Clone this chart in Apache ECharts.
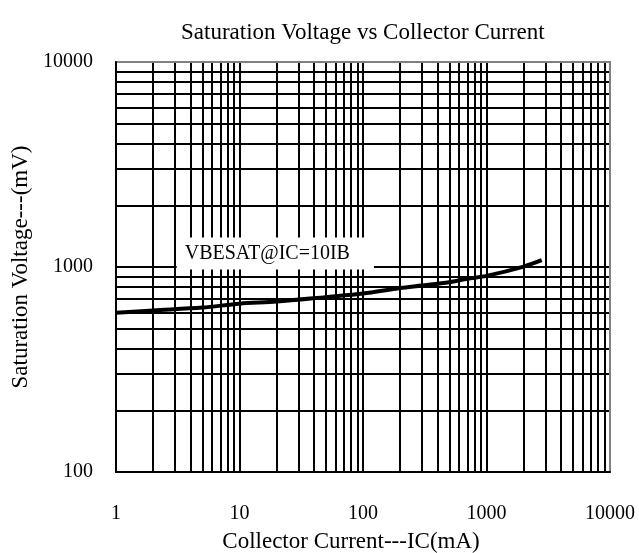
<!DOCTYPE html>
<html>
<head>
<meta charset="utf-8">
<script src="https://cdn.jsdelivr.net/npm/echarts@6/dist/echarts.min.js"></script>
<style>html,body{margin:0;padding:0;background:#fff;}#c{width:639px;height:553px;}</style>
</head>
<body>
<div id="c"></div>
<script>
// Data
var currentMA = [1, 2, 5, 10, 20, 50, 100, 200, 300, 500, 700, 1000, 2000, 2800];
var vbesatMV  = [598, 614, 634, 662, 678, 713, 742, 790, 812, 843, 876, 905, 1005, 1080];
var xTickLabels = ['1', '10', '100', '1000', '10000'];
var yTickLabels = ['100', '1000', '10000'];
var xGridValues = [2,3,4,5,6,7,8,9,10,20,30,40,50,60,70,80,90,100,200,300,400,500,600,700,800,900,1000,2000,3000,4000,5000,6000,7000,8000,9000];
var yGridValues = [200,300,400,500,600,700,800,900,1000,2000,3000,4000,5000,6000,7000,8000,9000];

var FONT = '"Liberation Serif", "DejaVu Serif", serif';
var chart = echarts.init(document.getElementById('c'), null, {renderer: 'canvas'});

function fmt(labels) {
  return function (v) {
    var s = String(Math.round(v));
    return labels.indexOf(s) >= 0 ? s : '';
  };
}

var option = {
  animation: false,
  backgroundColor: '#fff',
  title: {
    text: 'Saturation Voltage vs Collector Current',
    left: 176, top: 16,
    textStyle: {fontFamily: FONT, fontSize: 23, fontWeight: 'normal', color: '#000'}
  },
  grid: {
    left: 116, top: 62, right: 29, bottom: 81,
    outerBoundsMode: 'none', containLabel: false,
    show: true, z: 10, borderColor: '#808080', borderWidth: 2,
    backgroundColor: 'transparent'
  },
  xAxis: {
    type: 'log', logBase: 10, min: 1, max: 10000, splitNumber: 4,
    z: 11,
    axisLine: {show: true, lineStyle: {color: '#000', width: 2}},
    axisTick: {show: false},
    splitLine: {show: false},
    axisLabel: {formatter: fmt(xTickLabels), fontFamily: FONT, fontSize: 20, color: '#000', margin: 32},
    name: 'Collector Current---IC(mA)',
    nameLocation: 'middle', nameGap: 58,
    nameTextStyle: {fontFamily: FONT, fontSize: 23, color: '#000', padding: [0, 24, 0, 0]}
  },
  yAxis: {
    type: 'log', logBase: 10, min: 100, max: 10000, splitNumber: 2,
    z: 11,
    axisLine: {show: true, lineStyle: {color: '#000', width: 2}},
    axisTick: {show: false},
    splitLine: {show: false},
    axisLabel: {formatter: fmt(yTickLabels), fontFamily: FONT, fontSize: 20, color: '#000', margin: 23},
    name: 'Saturation Voltage---(mV)',
    nameLocation: 'middle', nameGap: 78, nameRotate: 90,
    nameTextStyle: {fontFamily: FONT, fontSize: 23, color: '#000'}
  },
  series: [
    {
      name: 'grid',
      type: 'line',
      data: [],
      silent: true,
      z: 1,
      markLine: {
        silent: true, z: 1, symbol: 'none', animation: false,
        label: {show: false},
        lineStyle: {color: '#000', width: 2, type: 'solid'},
        data: xGridValues.map(function (v) { return {xAxis: v}; })
          .concat(yGridValues.map(function (v) { return {yAxis: v}; }))
      }
    },
    {
      name: 'VBESAT',
      type: 'line',
      z: 3,
      smooth: 0.3,
      symbol: 'none',
      lineStyle: {color: '#000', width: 4},
      data: currentMA.map(function (x, i) { return [x, vbesatMV[i]]; }),
      markPoint: {
        z: 20,
        symbol: 'rect', symbolSize: 1,
        itemStyle: {color: 'rgba(0,0,0,0)'},
        data: [{coord: [19.5, 1164]}],
        label: {
          show: true, position: 'inside',
          formatter: 'VBESAT@IC=10IB',
          fontFamily: FONT, fontSize: 20, color: '#000',
          backgroundColor: '#fff',
          padding: [6, 24, 6, 8]
        }
      }
    }
  ]
};
chart.setOption(option);
</script>
</body>
</html>
